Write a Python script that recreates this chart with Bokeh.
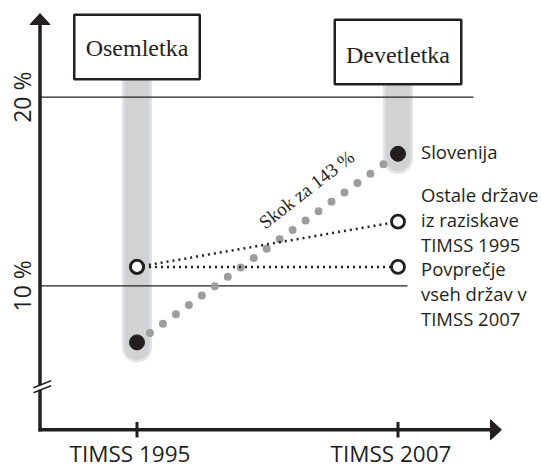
import math
from bokeh.plotting import figure
from bokeh.models import Range1d
from bokeh.core.properties import value
from bokeh.embed import file_html
from bokeh.resources import INLINE

# ---------------- data ----------------
periods = ["TIMSS 1995", "TIMSS 2007"]
x_pos = [0, 1]
slovenija = [7.0, 17.0]
ostale = [11.0, 13.4]
povprecje = [11.0, 11.0]
y_ticks = [10, 20]
y_tick_labels = ["10 %", "20 %"]
box_labels = ["Osemletka", "Devetletka"]
jump_label = ["Skok za 143 %"]
slo_label = ["Slovenija"]
ostale_label = ["Ostale države", "iz raziskave", "TIMSS 1995"]
povp_label = ["Povprečje", "vseh držav v", "TIMSS 2007"]

# ---------------- layout ----------------
W, H = 541, 467
XS = 261.0      # px per x unit
YS = 18.86      # px per percent
X0_PX = 136.5   # px of first category
Y10_PX = 285.3  # px (from top) of 10 %

def X(pg):  # picture x -> data
    return (pg - X0_PX) / XS

def Y(pg):  # picture y -> data
    return 10 + (Y10_PX - pg) / YS

BLACK = "#231f20"
SANS = value("Open Sans")
SERIF = value("Liberation Serif")

p = figure(width=W, height=H, output_backend="svg", toolbar_location=None,
           x_axis_location=None, y_axis_location=None, min_border=0,
           x_range=Range1d(-X0_PX / XS, (W - X0_PX) / XS),
           y_range=Range1d(10 - (H - Y10_PX) / YS, 10 + Y10_PX / YS))
p.outline_line_color = None
p.xgrid.visible = False
p.ygrid.visible = False
p.background_fill_color = "white"
p.border_fill_color = "white"

AX_X = X(39.5)
AX_Y = Y(429.3)

# gray columns (from box to Slovenia point)
box_y = [Y(46.5), Y(51.5)]
col_bottom = [v - 5 / YS for v in slovenija]
p.segment(x0=x_pos, y0=col_bottom, x1=x_pos, y1=box_y, line_width=30,
          line_color="#e2e3e4", line_cap="round")
p.segment(x0=x_pos, y0=col_bottom, x1=x_pos, y1=box_y, line_width=25,
          line_color="#d1d2d4", line_cap="round")

# reference lines at 20 % and 10 %
p.segment(x0=[AX_X, AX_X], y0=[20, 10], x1=[X(473), X(407)], y1=[20, 10],
          line_width=1.3, line_color=BLACK)

# axes
p.segment(x0=[AX_X], y0=[Y(431)], x1=[AX_X], y1=[Y(22)], line_width=3.5, line_color=BLACK)
p.patch(x=[AX_X, AX_X - 10 / XS, AX_X + 10 / XS], y=[Y(13), Y(24), Y(24)],
        fill_color=BLACK, line_color=BLACK, line_width=1)
p.segment(x0=[X(38)], y0=[AX_Y], x1=[X(491)], y1=[AX_Y], line_width=3.5, line_color=BLACK)
p.patch(x=[X(501), X(490), X(490)], y=[AX_Y, Y(419.3), Y(439.3)],
        fill_color=BLACK, line_color=BLACK, line_width=1)
# x ticks
p.segment(x0=x_pos, y0=[Y(421.5)] * 2, x1=x_pos, y1=[Y(437)] * 2,
          line_width=3, line_color=BLACK)
# axis break
p.segment(x0=[AX_X], y0=[Y(384.8)], x1=[AX_X], y1=[Y(389.2)], line_width=6, line_color="white")
p.segment(x0=[X(33), X(33)], y0=[Y(387.2), Y(392.2)], x1=[X(50.5), X(50.5)],
          y1=[Y(380.2), Y(385.2)], line_width=1.5, line_color=BLACK)

# Slovenia jump (gray dots)
p.line(x=x_pos, y=slovenija, line_width=8, line_color="#9d9d9d",
       line_dash="0 16", line_cap="round")
# other countries (black dotted)
p.line(x=x_pos, y=ostale, line_width=2.5, line_color=BLACK, line_dash="2 4")
p.line(x=x_pos, y=povprecje, line_width=2.5, line_color=BLACK, line_dash="2 4")

# points
p.scatter(x=x_pos, y=slovenija, size=15, fill_color=BLACK, line_color=BLACK)
p.scatter(x=x_pos + x_pos, y=ostale + povprecje, size=13, fill_color="white",
          line_color=BLACK, line_width=2.8)

# boxes
p.rect(x=x_pos, y=box_y, width=[125.5, 126.5], height=64.5, width_units="screen",
       height_units="screen", fill_color="white", line_color=BLACK, line_width=2.5)
p.text(x=x_pos, y=box_y, text=box_labels, y_offset=[0.5, 3], text_align="center",
       text_baseline="middle", text_font=SERIF, text_font_size="24px", text_color=BLACK)

# jump label
p.text(x=[X(306)], y=[Y(189)], text=jump_label, angle=0.66, text_align="center",
       text_baseline="middle", text_font=SERIF, text_font_size="19px", text_color=BLACK)

# series labels
LX = 23
FS = "18.5px"
p.text(x=[1], y=[slovenija[1]], text=slo_label, x_offset=LX, y_offset=-2.5,
       text_baseline="middle", text_font=SANS, text_font_size=FS, text_color=BLACK)
p.text(x=[1] * 3, y=[ostale[1]] * 3, text=ostale_label, x_offset=LX, y_offset=[-27, -2, 23],
       text_baseline="middle", text_font=SANS, text_font_size=FS, text_color=BLACK)
p.text(x=[1] * 3, y=[povprecje[1]] * 3, text=povp_label, x_offset=LX, y_offset=[2, 27, 52],
       text_baseline="middle", text_font=SANS, text_font_size=FS, text_color=BLACK)

# tick labels
p.text(x=[X(21)] * 2, y=y_ticks, text=y_tick_labels, angle=math.pi / 2,
       text_align="center", text_baseline="middle", text_font=SANS,
       text_font_size="23px", text_color=BLACK)
p.text(x=x_pos, y=[Y(452.5)] * 2, text=periods, x_offset=-7, text_align="center",
       text_baseline="middle", text_font=SANS, text_font_size="22.5px", text_color=BLACK)

open("out.html", "w").write(file_html(p, INLINE))
